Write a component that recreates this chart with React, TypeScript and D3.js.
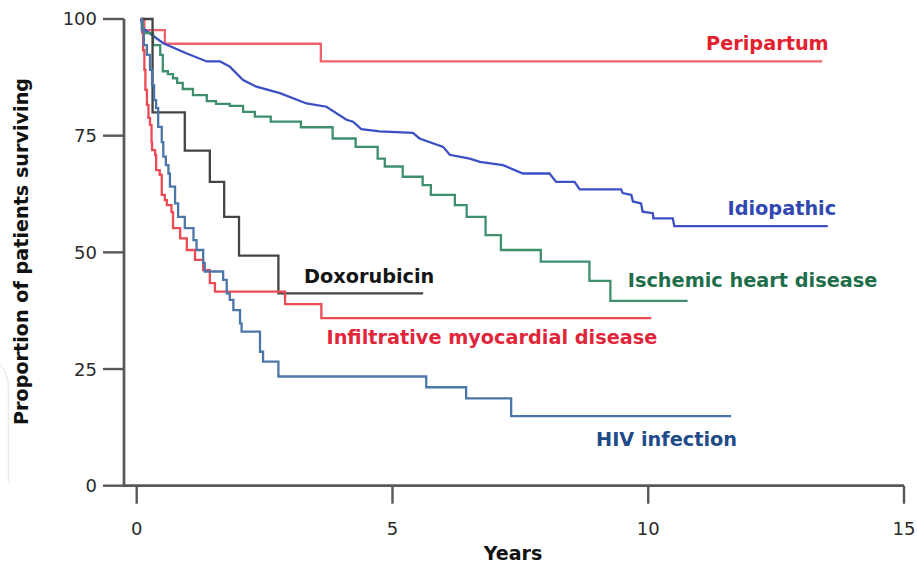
import React from 'react';
import * as d3 from 'd3';

type Pt = [number, number];

const xTicks = [0, 5, 10, 15];
const yTicks = [0, 25, 50, 75, 100];
const xLabel = 'Years';
const yLabel = 'Proportion of patients surviving';

// Kaplan–Meier steps: [years, % surviving] (value holds until next point)
const peripartum: Pt[] = [
  [0.08, 100], [0.15, 97.6], [0.55, 94.7], [3.6, 90.9], [13.4, 90.9],
];

// Idiopathic: many small steps, traced as a polyline
const idiopathic: Pt[] = [
  [0.08, 100], [0.13, 97.9], [0.52, 94.8], [0.98, 92.6], [1.37, 90.9], [1.63, 90.9],
  [1.82, 89.8], [2.08, 86.9], [2.34, 85.5], [2.8, 84.1], [3.32, 81.9], [3.71, 81.2],
  [4.1, 78.4], [4.23, 78.0], [4.39, 76.4], [4.75, 75.9], [5.4, 75.6], [5.53, 74.4],
  [5.99, 72.6], [6.12, 70.9], [6.51, 70.1], [6.71, 69.4], [7.16, 68.7], [7.55, 66.9],
  [8.07, 66.9], [8.2, 65.1], [8.56, 65.1], [8.66, 63.5], [9.47, 63.5], [9.5, 62.7],
  [9.67, 62.3], [9.7, 60.9], [9.86, 60.5], [9.89, 58.7], [10.09, 58.4], [10.1, 57.3],
  [10.48, 57.3], [10.51, 55.6], [13.51, 55.6],
];

const ischemic: Pt[] = [
  [0.08, 100], [0.12, 97.0], [0.32, 94.4], [0.46, 92.3], [0.51, 88.8], [0.61, 88.2],
  [0.71, 87.3], [0.79, 86.3], [0.9, 85.0], [1.1, 83.7], [1.37, 82.4], [1.55, 81.8],
  [1.82, 81.4], [2.08, 80.1], [2.31, 79.1], [2.62, 78.0], [3.21, 76.8], [3.83, 74.4],
  [4.28, 72.6], [4.71, 70.1], [4.85, 68.4], [5.2, 66.2], [5.59, 64.4], [5.75, 62.3],
  [6.22, 60.1], [6.45, 57.6], [6.82, 53.7], [7.12, 50.5], [7.9, 48.0], [8.85, 43.9],
  [9.26, 39.6], [10.77, 39.6],
];

const doxorubicin: Pt[] = [
  [0.12, 100], [0.31, 80.0], [0.94, 71.8], [1.43, 65.1], [1.71, 57.6], [2.0, 49.3],
  [2.77, 41.2], [5.6, 41.2],
];

const infiltrative: Pt[] = [
  [0.08, 100], [0.105, 97.2], [0.125, 93.3], [0.15, 89.1], [0.17, 84.8], [0.2, 81.6],
  [0.23, 78.8], [0.26, 77.3], [0.29, 73.6], [0.3, 71.9], [0.36, 70.9], [0.38, 67.6],
  [0.45, 66.6], [0.49, 62.3], [0.55, 61.2], [0.59, 60.1], [0.68, 58.6], [0.71, 55.2],
  [0.85, 53.0], [0.98, 50.5], [1.14, 48.4], [1.3, 46.2], [1.43, 43.4], [1.53, 41.6],
  [2.9, 38.9], [3.61, 35.9], [10.06, 35.9],
];

const hiv: Pt[] = [
  [0.08, 100], [0.1, 97.6], [0.14, 94.4], [0.2, 92.3], [0.26, 89.1], [0.3, 85.8],
  [0.34, 82.6], [0.38, 80.9], [0.42, 76.9], [0.49, 73.6], [0.52, 70.5], [0.57, 68.7],
  [0.62, 66.9], [0.65, 64.1], [0.75, 60.5], [0.81, 57.6], [0.94, 55.2], [1.11, 52.6],
  [1.17, 50.5], [1.3, 47.7], [1.33, 45.9], [1.69, 44.1], [1.76, 41.2], [1.82, 39.8],
  [1.89, 37.6], [2.02, 34.8], [2.05, 33.0], [2.41, 28.7], [2.47, 26.6], [2.77, 23.4],
  [5.66, 21.1], [6.44, 18.7], [7.32, 14.9], [11.62, 14.9],
];

const seriesNames = [
  'Peripartum', 'Idiopathic', 'Ischemic heart disease', 'Doxorubicin',
  'Infiltrative myocardial disease', 'HIV infection',
];
const seriesData = [peripartum, idiopathic, ischemic, doxorubicin, infiltrative, hiv];

// styles (not data)
const lineColors = ['#f0626b', '#3c50c4', '#3f8f6d', '#444444', '#ec4b56', '#4c76a8'];
const textColors = ['#e3222f', '#3148b3', '#1f6e4a', '#141414', '#e0263a', '#1f4b88'];
const stepped = [true, false, true, true, true, true];
// label anchors (years, %), left/baseline
const labelAt: Pt[] = [
  [11.13, 93.4], [11.55, 58.0], [9.6, 42.6], [3.27, 43.5], [3.71, 30.4], [8.98, 8.6],
];

const W = 917;
const H = 564;
const FONT = '"DejaVu Sans", Verdana, sans-serif';
const AXIS = '#585858';

export default function App() {
  const x = d3.scaleLinear().domain([0, 15]).range([136.7, 904]);
  const y = d3.scaleLinear().domain([0, 100]).range([485.7, 19]);
  const axisX = x(0) - 12.7;
  const axisY = y(0);

  const stepLine = d3.line<Pt>().x(d => x(d[0])).y(d => y(d[1])).curve(d3.curveStepAfter);
  const polyLine = d3.line<Pt>().x(d => x(d[0])).y(d => y(d[1])).curve(d3.curveLinear);

  return (
    <svg width={W} height={H} style={{ position: 'absolute', left: 0, top: 0, background: '#fff' }}
      fontFamily={FONT}>
      <rect x={0} y={0} width={W} height={H} fill="#fff" />
      {/* faint background artefact at left edge */}
      <path d="M0,365 Q8.5,372 8.5,390 L8.5,483" fill="none" stroke="#ececec" strokeWidth={1.5} />
      {/* curves */}
      {seriesData.map((d, i) => (
        <path key={seriesNames[i]} d={(stepped[i] ? stepLine : polyLine)(d) || ''}
          fill="none" stroke={lineColors[i]} strokeWidth={2.3} strokeLinejoin="miter" />
      ))}
      {/* axes */}
      <line x1={axisX} x2={axisX} y1={y(100)} y2={axisY + 1.2} stroke={AXIS} strokeWidth={2.7} />
      <line x1={axisX - 1.3} x2={x(15)} y1={axisY} y2={axisY} stroke={AXIS} strokeWidth={2.7} />
      {yTicks.map(t => (
        <g key={'y' + t}>
          <line x1={axisX - 21} x2={axisX} y1={y(t)} y2={y(t)} stroke={AXIS} strokeWidth={2.4} />
          <text x={axisX - 27} y={y(t)} dy="0.36em" textAnchor="end" fontSize={18} fill="#2a2a2a">{t}</text>
        </g>
      ))}
      {xTicks.map(t => (
        <g key={'x' + t}>
          <line x1={x(t)} x2={x(t)} y1={axisY} y2={axisY + 18} stroke={AXIS} strokeWidth={2.4} />
          <text x={x(t)} y={535} textAnchor="middle" fontSize={18} fill="#2a2a2a">{t}</text>
        </g>
      ))}
      <text x={513} y={560} textAnchor="middle" fontSize={19} fontWeight="bold" fill="#111">{xLabel}</text>
      <text transform={`translate(28,251.5) rotate(-90)`} textAnchor="middle" fontSize={19.2}
        fontWeight="bold" fill="#111">{yLabel}</text>
      {/* series labels */}
      {seriesNames.map((n, i) => (
        <text key={'l' + n} x={x(labelAt[i][0])} y={y(labelAt[i][1])} fontSize={19.3}
          fontWeight="bold" fill={textColors[i]}>{n}</text>
      ))}
    </svg>
  );
}
